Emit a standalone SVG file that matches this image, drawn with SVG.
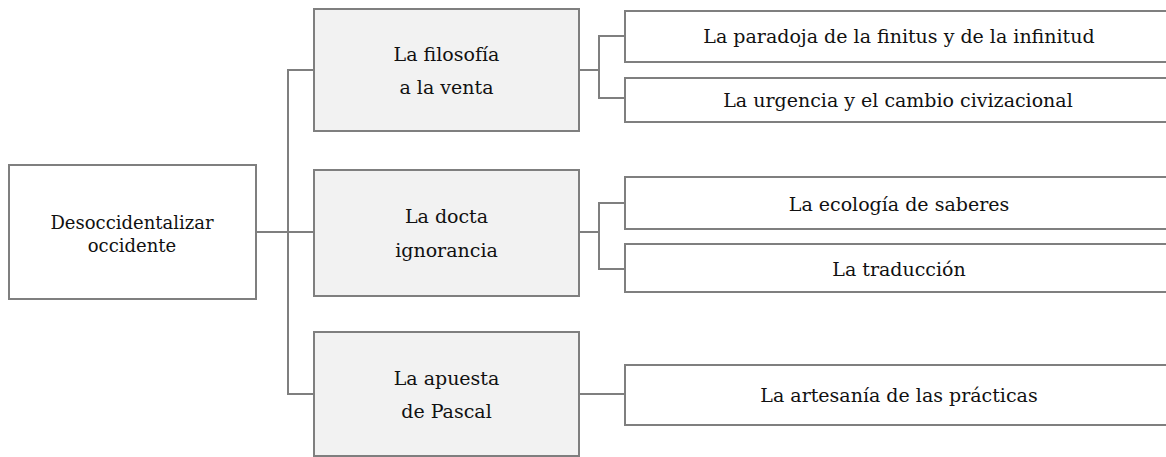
<svg xmlns="http://www.w3.org/2000/svg" width="1166" height="457" viewBox="0 0 1166 457">
<style>
.box{fill:#ffffff;stroke:#7f7f7f;stroke-width:2}
.mid{fill:#f2f2f2;stroke:#7f7f7f;stroke-width:2}
.conn{fill:none;stroke:#7f7f7f;stroke-width:2}
.lbl{font-family:'DejaVu Serif',serif;fill:#111111;text-anchor:middle}
.t1{font-size:18px}
.t2{font-size:19px}
.t3{font-size:19px}
</style>
<rect width="1166" height="457" fill="#ffffff"/>
<g id="connectors">
<path class="conn" d="M256 232 H314"/>
<path class="conn" d="M314 70 H288 V394 H314"/>
<path class="conn" d="M579 70 H599"/>
<path class="conn" d="M625 36 H599 V98 H625"/>
<path class="conn" d="M579 232 H599"/>
<path class="conn" d="M625 203 H599 V269 H625"/>
<path class="conn" d="M579 394 H625"/>
</g>
<g id="root">
<rect class="box" x="9" y="165" width="247" height="134"/>
<text class="lbl t1" x="132" y="229">Desoccidentalizar</text>
<text class="lbl t1" x="132" y="252">occidente</text>
</g>
<g id="n1">
<rect class="mid" x="314" y="9" width="265" height="122"/>
<text class="lbl t2" x="446.5" y="61">La filosofía</text>
<text class="lbl t2" x="446.5" y="94">a la venta</text>
</g>
<g id="n2">
<rect class="mid" x="314" y="170" width="265" height="126"/>
<text class="lbl t2" x="446.5" y="223">La docta</text>
<text class="lbl t2" x="446.5" y="257">ignorancia</text>
</g>
<g id="n3">
<rect class="mid" x="314" y="332" width="265" height="124"/>
<text class="lbl t2" x="446.5" y="385">La apuesta</text>
<text class="lbl t2" x="446.5" y="418">de Pascal</text>
</g>
<g id="n1a">
<rect class="box" x="625" y="11" width="560" height="51"/>
<text class="lbl t3" x="899" y="43">La paradoja de la finitus y de la infinitud</text>
</g>
<g id="n1b">
<rect class="box" x="625" y="78" width="560" height="44"/>
<text class="lbl t3" x="898" y="107">La urgencia y el cambio civizacional</text>
</g>
<g id="n2a">
<rect class="box" x="625" y="177" width="560" height="52"/>
<text class="lbl t3" x="899" y="211">La ecología de saberes</text>
</g>
<g id="n2b">
<rect class="box" x="625" y="244" width="560" height="48"/>
<text class="lbl t3" x="899" y="276">La traducción</text>
</g>
<g id="n3a">
<rect class="box" x="625" y="365" width="560" height="60"/>
<text class="lbl t3" x="899" y="402">La artesanía de las prácticas</text>
</g>
</svg>
